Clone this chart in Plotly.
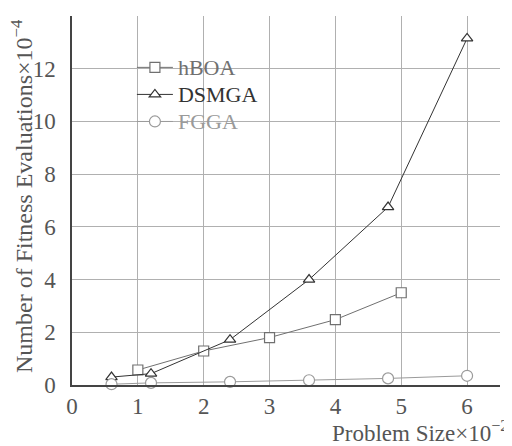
import plotly.graph_objects as go

# Data (problem size x10^-2, evaluations x10^-4)
hboa_x = [1, 2, 3, 4, 5]
hboa_y = [0.57, 1.29, 1.8, 2.48, 3.5]
dsmga_x = [0.6, 1.2, 2.4, 3.6, 4.8, 6]
dsmga_y = [0.3, 0.43, 1.72, 4.0, 6.75, 13.15]
fgga_x = [0.6, 1.2, 2.4, 3.6, 4.8, 6]
fgga_y = [0.03, 0.08, 0.12, 0.18, 0.25, 0.35]

x_ticks = [0, 1, 2, 3, 4, 5, 6]
y_ticks = [0, 2, 4, 6, 8, 10, 12, 14]
y_ticktext = ["0", "2", "4", "6", "8", "10", "12", ""]

FONT = "Liberation Serif"
AX = "#444444"
GRID = "#b0b0b0"
TXT = "#555555"

fig = go.Figure()
fig.add_trace(go.Scatter(
    x=hboa_x, y=hboa_y, mode="lines+markers",
    name="<span style='color:#707070;font-size:22px'>hBOA</span>",
    line=dict(color="#707070", width=1),
    marker=dict(symbol="square", size=10, color="white", line=dict(color="#707070", width=1.2)),
    cliponaxis=False,
))
fig.add_trace(go.Scatter(
    x=dsmga_x, y=dsmga_y, mode="lines+markers",
    name="<span style='color:#333333;font-size:22px'>DSMGA</span>",
    line=dict(color="#333333", width=1),
    marker=dict(symbol="triangle-up", size=10, color="white", line=dict(color="#333333", width=1.2)),
    cliponaxis=False,
))
fig.add_trace(go.Scatter(
    x=fgga_x, y=fgga_y, mode="lines+markers",
    name="<span style='color:#9a9a9a;font-size:22px'>FGGA</span>",
    line=dict(color="#9a9a9a", width=1),
    marker=dict(symbol="circle", size=11, color="white", line=dict(color="#9a9a9a", width=1.2)),
    cliponaxis=False,
))

# page body has an 8px margin: figure is placed at (8, 8)
fig.update_layout(
    width=504, height=438,
    margin=dict(l=64, r=12, t=8, b=61),
    paper_bgcolor="white", plot_bgcolor="white",
    font=dict(family=FONT, size=21, color=TXT),
    showlegend=True,
    legend=dict(
        x=0.14, y=0.911, xanchor="left", yanchor="top",
        bgcolor="rgba(0,0,0,0)", borderwidth=0,
        font=dict(family=FONT, size=18.5),
        tracegroupgap=0, itemwidth=36,
    ),
    xaxis=dict(
        range=[0, 6.5], tickvals=x_ticks, ticktext=[str(v) for v in x_ticks],
        showgrid=True, gridcolor=GRID, gridwidth=1,
        zeroline=False, showline=True, linecolor=AX, linewidth=1.5,
        ticks="", ticklabelstandoff=0,
        tickfont=dict(family=FONT, size=23, color=TXT),
    ),
    yaxis=dict(
        range=[0, 14], tickvals=y_ticks, ticktext=y_ticktext,
        showgrid=True, gridcolor=GRID, gridwidth=1,
        zeroline=False, showline=True, linecolor=AX, linewidth=1.5,
        ticks="", ticklabelstandoff=10,
        tickfont=dict(family=FONT, size=23, color=TXT),
    ),
)

# axis arrows
fig.add_annotation(x=0, y=14.2, xref="x", yref="y", ax=0, ay=30, axref="pixel", ayref="pixel",
                   showarrow=True, arrowhead=2, arrowsize=1.8, arrowwidth=1.5, arrowcolor=AX,
                   text="", standoff=0)
fig.add_annotation(x=6.53, y=0, xref="x", yref="y", ax=-30, ay=0,
                   showarrow=True, arrowhead=2, arrowsize=1.8, arrowwidth=1.5, arrowcolor=AX,
                   text="", standoff=0)

# axis titles
fig.add_annotation(x=-0.117, y=0.512, xref="paper", yref="paper", xanchor="center", yanchor="middle",
                   text="Number of Fitness Evaluations×10<sup>−4</sup>", textangle=-90,
                   showarrow=False, font=dict(family=FONT, size=24, color=TXT))
fig.add_annotation(x=1.024, y=-0.127, xref="paper", yref="paper", xanchor="right", yanchor="middle",
                   text="Problem Size×10<sup>−2</sup>",
                   showarrow=False, font=dict(family=FONT, size=23, color=TXT))

fig.write_html("out.html")
